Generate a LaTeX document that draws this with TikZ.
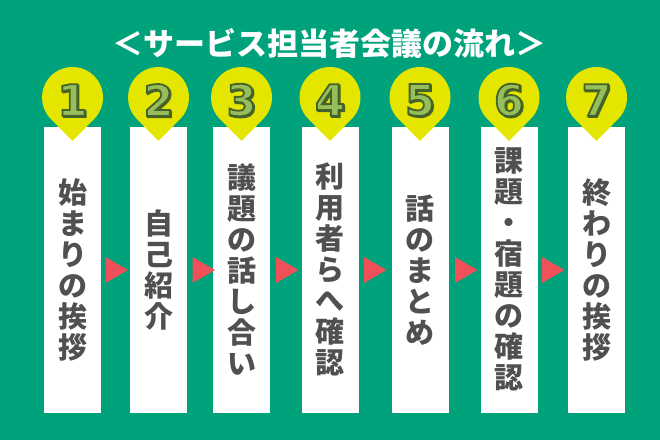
\documentclass[tikz,border=0pt]{standalone}
\usepackage{fontspec}
\newfontfamily\jp{Noto Sans CJK JP}
\newfontfamily\numfont{DejaVu Sans}
\definecolor{bggreen}{RGB}{0,162,124}
\definecolor{pinyellow}{RGB}{228,230,0}
\definecolor{numfill}{RGB}{150,190,90}
\definecolor{numline}{RGB}{70,100,40}
\definecolor{txtgray}{RGB}{80,80,80}
\definecolor{tri}{RGB}{240,80,88}
% outlined digit: fill in numfill, stroke in numline
\newcommand\outl[1]{\textcolor{numfill}{\special{pdf:code 2 Tr 1.8 w 0.27 0.39 0.16 RG}#1\special{pdf:code 0 Tr}}}
\newcommand\shade[1]{\textcolor{numline}{\special{pdf:code 2 Tr 1.8 w 0.27 0.39 0.16 RG}#1\special{pdf:code 0 Tr}}}
\tikzset{
  panel/.style={fill=white, inner sep=0pt, minimum width=57pt, minimum height=285.5pt,
    align=center, text=txtgray, font=\jp\bfseries\fontsize{29}{31}\selectfont},
  pin/.style={fill=pinyellow},
  num/.style={inner sep=0pt, font=\numfont\bfseries\fontsize{43}{43}\selectfont},
  redtri/.style={fill=tri}
}
\begin{document}
\begin{tikzpicture}[x=1pt,y=1pt]
\fill[bggreen] (0,0) rectangle (660,440);
\useasboundingbox (0,0) rectangle (660,440);

\node (title) at (329,397) [text=white, font=\jp\bfseries\fontsize{31}{31}\selectfont] {＜サービス担当者会議の流れ＞};

% panels
\node (p1) at (72.5,170.25) [panel] {始\\ま\\り\\の\\挨\\拶};
\node (p2) at (158.5,170.25) [panel] {自\\己\\紹\\介};
\node (p3) at (241.5,170.25) [panel] {議\\題\\の\\話\\し\\合\\い};
\node (p4) at (330,170.25) [panel] {利\\用\\者\\ら\\へ\\確\\認};
\node (p5) at (420,170.25) [panel] {話\\の\\ま\\と\\め};
\node (p6) at (509,170.25) [panel] {課\\題\\・\\宿\\題\\の\\確\\認};
\node (p7) at (596.5,170.25) [panel] {終\\わ\\り\\の\\挨\\拶};

% pins
\fill[pin] (72.5,342.5) ++(-44.5:30.5) arc[start angle=-44.5,end angle=224.5,radius=30.5] -- (72.5,299) -- cycle;
\fill[pin] (158.5,342.5) ++(-44.5:30.5) arc[start angle=-44.5,end angle=224.5,radius=30.5] -- (158.5,299) -- cycle;
\fill[pin] (241.5,342.5) ++(-44.5:30.5) arc[start angle=-44.5,end angle=224.5,radius=30.5] -- (241.5,299) -- cycle;
\fill[pin] (330,342.5) ++(-44.5:30.5) arc[start angle=-44.5,end angle=224.5,radius=30.5] -- (330,299) -- cycle;
\fill[pin] (420,342.5) ++(-44.5:30.5) arc[start angle=-44.5,end angle=224.5,radius=30.5] -- (420,299) -- cycle;
\fill[pin] (509,342.5) ++(-44.5:30.5) arc[start angle=-44.5,end angle=224.5,radius=30.5] -- (509,299) -- cycle;
\fill[pin] (596.5,342.5) ++(-44.5:30.5) arc[start angle=-44.5,end angle=224.5,radius=30.5] -- (596.5,299) -- cycle;

% numbers
\node (s1) at (73.7,338.8) [num] {\shade{1}};
\node (n1) at (72.5,340) [num] {\outl{1}};
\node (s2) at (159.7,338.8) [num] {\shade{2}};
\node (n2) at (158.5,340) [num] {\outl{2}};
\node (s3) at (242.7,338.8) [num] {\shade{3}};
\node (n3) at (241.5,340) [num] {\outl{3}};
\node (s4) at (331.2,338.8) [num] {\shade{4}};
\node (n4) at (330,340) [num] {\outl{4}};
\node (s5) at (421.2,338.8) [num] {\shade{5}};
\node (n5) at (420,340) [num] {\outl{5}};
\node (s6) at (510.2,338.8) [num] {\shade{6}};
\node (n6) at (509,340) [num] {\outl{6}};
\node (s7) at (597.7,338.8) [num] {\shade{7}};
\node (n7) at (596.5,340) [num] {\outl{7}};

% arrows between panels
\fill[redtri] (116.5,170) ++(-11,-13) -- ++(22.5,13) -- ++(-22.5,13) -- cycle;
\fill[redtri] (203.5,170) ++(-11,-13) -- ++(22.5,13) -- ++(-22.5,13) -- cycle;
\fill[redtri] (287,170) ++(-11,-13) -- ++(22.5,13) -- ++(-22.5,13) -- cycle;
\fill[redtri] (375,170) ++(-11,-13) -- ++(22.5,13) -- ++(-22.5,13) -- cycle;
\fill[redtri] (466,170) ++(-11,-13) -- ++(22.5,13) -- ++(-22.5,13) -- cycle;
\fill[redtri] (553,170) ++(-11,-13) -- ++(22.5,13) -- ++(-22.5,13) -- cycle;
\end{tikzpicture}
\end{document}
